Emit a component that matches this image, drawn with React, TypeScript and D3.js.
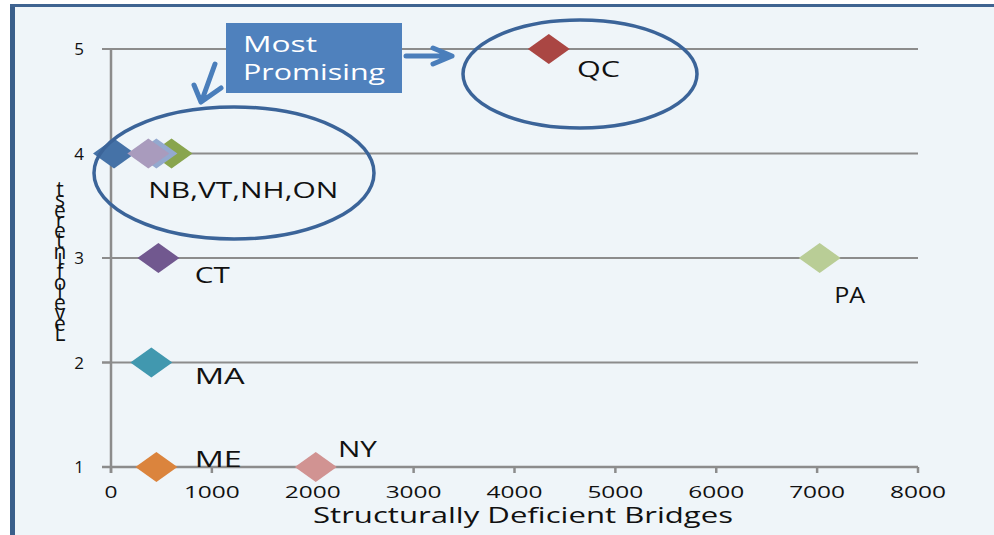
import React from "react";
import { scaleLinear } from "d3";

// states / provinces, in the chart's series order
const names = ["NB", "QC", "VT", "CT", "MA", "ME", "NH", "NY", "PA", "ON"];
const bridges = [30, 4340, 600, 470, 400, 450, 450, 2030, 7025, 370];
const interest = [4, 5, 4, 3, 2, 1, 4, 1, 3, 4];
const colors = ["#4572A7", "#AA4643", "#89A54E", "#71588F", "#4198AF", "#DB843D", "#93A9CF", "#D19392", "#B9CD96", "#A99BBD"];

// point labels, placed in data units
const labelText = ["QC", "NB,VT,NH,ON", "CT", "PA", "MA", "ME", "NY"];
const labelX = [4620, 370, 830, 7170, 830, 830, 2250];
const labelY = [4.73, 3.57, 2.76, 2.57, 1.79, 1.0, 1.1];
const labelWidth = [43, 190, 35, 31, 50, 47, 39];

const xTicks = [0, 1000, 2000, 3000, 4000, 5000, 6000, 7000, 8000];
const yTicks = [1, 2, 3, 4, 5];
const xTitle = "Structurally Deficient Bridges";
const yTitle = "Level of Interest";

const W = 994;
const H = 535;

export default function App() {
  const x = scaleLinear().domain([0, 8000]).range([111, 918]);
  const y = scaleLinear().domain([1, 5]).range([467, 49]);
  const font = "'Open Sans', sans-serif";
  const grid = "#8c8c8c";
  const ring = "#3b6499";
  const arrow = "#4a7ebb";

  // y title: glyphs stacked upright, read bottom to top
  const stacked = yTitle.replace(/ /g, "").split("").reverse().join("");

  return (
    <div style={{ position: "absolute", left: 0, top: 0 }}>
      <svg width={W} height={H} style={{ display: "block" }}>
        <rect width={W} height={H} fill="#ffffff" />
        <rect x={12} y={5} width={W} height={H} fill="#eff5f9" />
        <line x1={12.5} y1={4} x2={12.5} y2={H} stroke="#3a5f8b" strokeWidth={5} />
        <line x1={10} y1={5.5} x2={W} y2={5.5} stroke="#3f6491" strokeWidth={3} />

        {/* gridlines */}
        {yTicks.slice(1).map(t => (
          <line key={t} x1={102} x2={x(8000)} y1={y(t)} y2={y(t)} stroke={grid} strokeWidth={2} />
        ))}
        {/* axes */}
        <line x1={x(0)} x2={x(0)} y1={y(5)} y2={y(1) + 6} stroke={grid} strokeWidth={2.5} />
        <line x1={102} x2={x(8000)} y1={y(1)} y2={y(1)} stroke={grid} strokeWidth={2.5} />
        {yTicks.map(t => (
          <line key={t} x1={102} x2={x(0)} y1={y(t)} y2={y(t)} stroke={grid} strokeWidth={2} />
        ))}
        {xTicks.map(t => (
          <line key={t} x1={x(t)} x2={x(t)} y1={y(1)} y2={y(1) + 6} stroke={grid} strokeWidth={2.5} />
        ))}
        {yTicks.map(t => (
          <text key={t} x={84} y={y(t) + 6} textAnchor="end" fontFamily={font} fontSize={17} fill="#111">
            {t}
          </text>
        ))}
        {xTicks.map(t => (
          <text
            key={t}
            x={x(t)}
            y={498}
            textAnchor="middle"
            fontFamily={font}
            fontSize={17}
            fill="#111"
            textLength={t === 0 ? 13 : 56}
            lengthAdjust="spacingAndGlyphs"
          >
            {t}
          </text>
        ))}
        <text x={313} y={523} fontFamily={font} fontSize={21} fill="#111" textLength={420} lengthAdjust="spacingAndGlyphs">
          {xTitle}
        </text>
        <text
          x={60}
          y={175}
          fontFamily={font}
          fontSize={21}
          fill="#111"
          textLength={172}
          lengthAdjust="spacing"
          style={{ writingMode: "vertical-rl", textOrientation: "upright" }}
        >
          {stacked}
        </text>

        {/* points */}
        {names.map((n, i) => {
          const cx = x(bridges[i]);
          const cy = y(interest[i]);
          return (
            <path
              key={n}
              d={`M${cx - 21},${cy} L${cx},${cy - 15} L${cx + 21},${cy} L${cx},${cy + 15} Z`}
              fill={colors[i]}
            />
          );
        })}
        {labelText.map((l, i) => (
          <text
            key={l}
            x={x(labelX[i])}
            y={y(labelY[i])}
            fontFamily={font}
            fontSize={21}
            fill="#111"
            textLength={labelWidth[i]}
            lengthAdjust="spacingAndGlyphs"
          >
            {l}
          </text>
        ))}

        {/* annotations */}
        <ellipse cx={234} cy={173} rx={140} ry={66} fill="none" stroke={ring} strokeWidth={3.5} />
        <ellipse cx={580} cy={74} rx={117} ry={54} fill="none" stroke={ring} strokeWidth={3.5} />
        <rect x={226} y={23} width={176} height={70} fill="#4f81bd" />
        <text x={243} y={52} fontFamily={font} fontSize={22} fill="#fff" textLength={74} lengthAdjust="spacingAndGlyphs">
          Most
        </text>
        <text x={243} y={80} fontFamily={font} fontSize={22} fill="#fff" textLength={142} lengthAdjust="spacingAndGlyphs">
          Promising
        </text>
        <g stroke={arrow} strokeWidth={5} fill="none" strokeLinecap="round" strokeLinejoin="round">
          <path d="M406,56 L450,56 M452,56 L433,48 M452,56 L433,64" />
          <path d="M215,64 L202,100 M201,102 L194,85 M201,102 L221,88" />
        </g>
      </svg>
    </div>
  );
}
